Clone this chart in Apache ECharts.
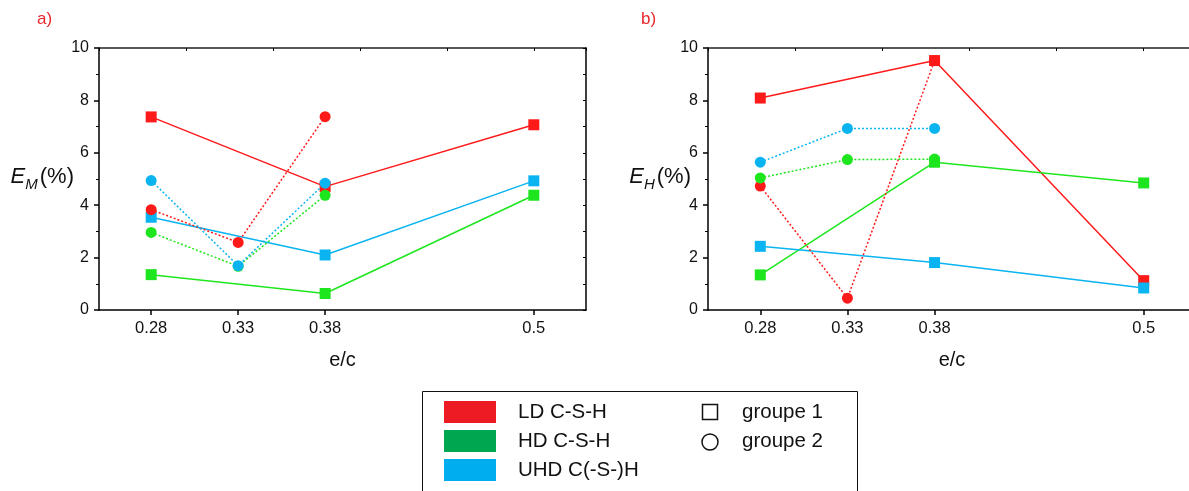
<!DOCTYPE html>
<html>
<head>
<meta charset="utf-8">
<script src="https://cdn.jsdelivr.net/npm/echarts@6/dist/echarts.min.js"></script>
<style>
html,body{margin:0;padding:0;background:#fff;}
#c{width:1189px;height:491px;}
</style>
</head>
<body>
<div id="c"></div>
<script>
// ---- data ----
const xTickValues = [0.28, 0.33, 0.38, 0.5];
const xGroup1 = [0.28, 0.38, 0.5];     // groupe 1 (squares, solid)
const xGroup2 = [0.28, 0.33, 0.38];    // groupe 2 (circles, dotted)
const seriesNames = ['LD C-S-H', 'HD C-S-H', 'UHD C(-S-)H'];

// a) E_M (%)
const EM_LD_g1  = [7.37, 4.71, 7.07];
const EM_HD_g1  = [1.35, 0.63, 4.38];
const EM_UHD_g1 = [3.54, 2.10, 4.93];
const EM_LD_g2  = [3.83, 2.58, 7.38];
const EM_HD_g2  = [2.96, 1.67, 4.38];
const EM_UHD_g2 = [4.94, 1.69, 4.84];

// b) E_H (%)
const EH_LD_g1  = [8.09, 9.52, 1.12];
const EH_HD_g1  = [1.34, 5.64, 4.85];
const EH_UHD_g1 = [2.43, 1.81, 0.84];
const EH_LD_g2  = [4.73, 0.45, 9.52];
const EH_HD_g2  = [5.04, 5.74, 5.76];
const EH_UHD_g2 = [5.64, 6.93, 6.93];

// ---- style ----
const lineColors = ['#ff1a1a', '#1ee61e', '#0ab4f0'];
const legendColors = ['#ed1c24', '#00a650', '#00aeef'];
const FONT = 'Liberation Sans, Arial, sans-serif';

function pairs(xs, ys){ return xs.map((x,i)=>[x, ys[i]]); }

function mkSeries(gridIdx, g1, g2){
  const out = [];
  g1.forEach((ys, k) => out.push({
    type:'line', name: seriesNames[k], xAxisIndex: gridIdx*2, yAxisIndex: gridIdx*2,
    data: pairs(xGroup1, ys), symbol:'rect', symbolSize: 11, z: 2,
    lineStyle:{color: lineColors[k], width: 1.5},
    itemStyle:{color: lineColors[k]}, animation:false
  }));
  g2.forEach((ys, k) => out.push({
    type:'line', name: seriesNames[k], xAxisIndex: gridIdx*2, yAxisIndex: gridIdx*2,
    data: pairs(xGroup2, ys), symbol:'circle', symbolSize: 11, z: 3,
    lineStyle:{color: lineColors[k], width: 1.5, type:[2,2]},
    itemStyle:{color: lineColors[k]}, animation:false
  }));
  return out;
}

function xAxes(gridIdx){
  return [{
    type:'value', gridIndex: gridIdx, position:'bottom', min:0.25, max:0.53,
    name:'e/c', nameLocation:'middle', nameGap: 40, nameMoveOverlap:false,
    nameTextStyle:{fontFamily:FONT, fontSize:20, color:'#111'},
    axisLine:{show:true, onZero:false, lineStyle:{color:'#000', width:1.5}},
    axisTick:{show:true, inside:false, length:5, customValues: xTickValues, lineStyle:{color:'#000', width:1.5}},
    axisLabel:{show:true, customValues: xTickValues, fontFamily:FONT, fontSize:16.5, color:'#111', margin:10,
      formatter: v => String(Math.round(v*100)/100)},
    splitLine:{show:false}
  },{
    type:'value', gridIndex: gridIdx, position:'top', min:0.25, max:0.53, interval:0.05,
    axisLine:{show:true, onZero:false, lineStyle:{color:'#222', width:1.5}},
    axisTick:{show:true, inside:true, length:3, lineStyle:{color:'#000', width:1}},
    axisLabel:{show:false}, splitLine:{show:false}
  }];
}

function yAxes(gridIdx, label){
  return [{
    type:'value', gridIndex: gridIdx, position:'left', min:0, max:10, interval:2,
    name: label, nameLocation:'middle', nameRotate:0, nameGap: gridIdx===0 ? 25 : 17, nameMoveOverlap:false,
    nameTextStyle:{
      fontFamily:FONT, color:'#111',
      rich:{
        e:{fontFamily:FONT, fontStyle:'italic', fontSize:22, color:'#111', verticalAlign:'bottom', padding:[0,0,5,0]},
        s:{fontFamily:FONT, fontStyle:'italic', fontSize:15, color:'#111', verticalAlign:'bottom', padding:[0,2,0,0]},
        n:{fontFamily:FONT, fontSize:22, color:'#111', verticalAlign:'bottom', padding:[0,0,5,0]}
      }
    },
    axisLine:{show:true, onZero:false, lineStyle:{color:'#000', width:1.5}},
    axisTick:{show:true, inside:false, length:5, lineStyle:{color:'#000', width:1.5}},
    minorTick:{show:true, splitNumber:2, length:3, lineStyle:{color:'#000', width:1}},
    axisLabel:{fontFamily:FONT, fontSize:16, color:'#111', margin:10},
    splitLine:{show:false}
  },{
    type:'value', gridIndex: gridIdx, position:'right', min:0, max:10, interval:1,
    axisLine:{show:true, onZero:false, lineStyle:{color:'#000', width:1.5}},
    axisTick:{show:true, inside:true, length:3, lineStyle:{color:'#000', width:1}},
    axisLabel:{show:false}, splitLine:{show:false}
  }];
}

// legend graphics
const legendG = [
  {type:'rect', shape:{x:422.5, y:391.5, width:435, height:130}, style:{fill:'#fff', stroke:'#111', lineWidth:1}, z:10}
];
legendColors.forEach((c,i)=>{
  const cy = 412 + i*29;
  legendG.push({type:'rect', shape:{x:444, y:cy-11, width:52, height:22}, style:{fill:c}, z:11});
  legendG.push({type:'text', x:518, y:cy, style:{text:seriesNames[i], fontFamily:FONT, fontSize:20.5, fill:'#111', verticalAlign:'middle'}, z:11});
});
legendG.push({type:'rect', shape:{x:702.5, y:404.5, width:15, height:15}, style:{fill:'none', stroke:'#111', lineWidth:1.5}, z:11});
legendG.push({type:'text', x:742, y:412, style:{text:'groupe 1', fontFamily:FONT, fontSize:20.5, fill:'#111', verticalAlign:'middle'}, z:11});
legendG.push({type:'circle', shape:{cx:710, cy:442, r:8}, style:{fill:'none', stroke:'#111', lineWidth:1.5}, z:11});
legendG.push({type:'text', x:742, y:441, style:{text:'groupe 2', fontFamily:FONT, fontSize:20.5, fill:'#111', verticalAlign:'middle'}, z:11});

// panel labels
legendG.push({type:'text', x:37, y:19, style:{text:'a)', fontFamily:FONT, fontSize:17, fill:'#e8262d', verticalAlign:'middle'}, z:11});
legendG.push({type:'text', x:641, y:19, style:{text:'b)', fontFamily:FONT, fontSize:17, fill:'#e8262d', verticalAlign:'middle'}, z:11});

const option = {
  backgroundColor:'#fff',
  animation:false,
  grid:[
    {left:99, top:48, width:487, height:262, containLabel:false, outerBoundsMode:'none'},
    {left:708, top:48, width:488, height:262, containLabel:false, outerBoundsMode:'none'}
  ],
  xAxis: [...xAxes(0), ...xAxes(1)],
  yAxis: [...yAxes(0, '{e|E}{s|M}{n|(%)}'), ...yAxes(1, '{e|E}{s|H}{n|(%)}')],
  series: [
    ...mkSeries(0, [EM_LD_g1, EM_HD_g1, EM_UHD_g1], [EM_LD_g2, EM_HD_g2, EM_UHD_g2]),
    ...mkSeries(1, [EH_LD_g1, EH_HD_g1, EH_UHD_g1], [EH_LD_g2, EH_HD_g2, EH_UHD_g2])
  ],
  graphic: legendG
};

const chart = echarts.init(document.getElementById('c'), null, {renderer:'canvas'});
chart.setOption(option);
</script>
</body>
</html>
